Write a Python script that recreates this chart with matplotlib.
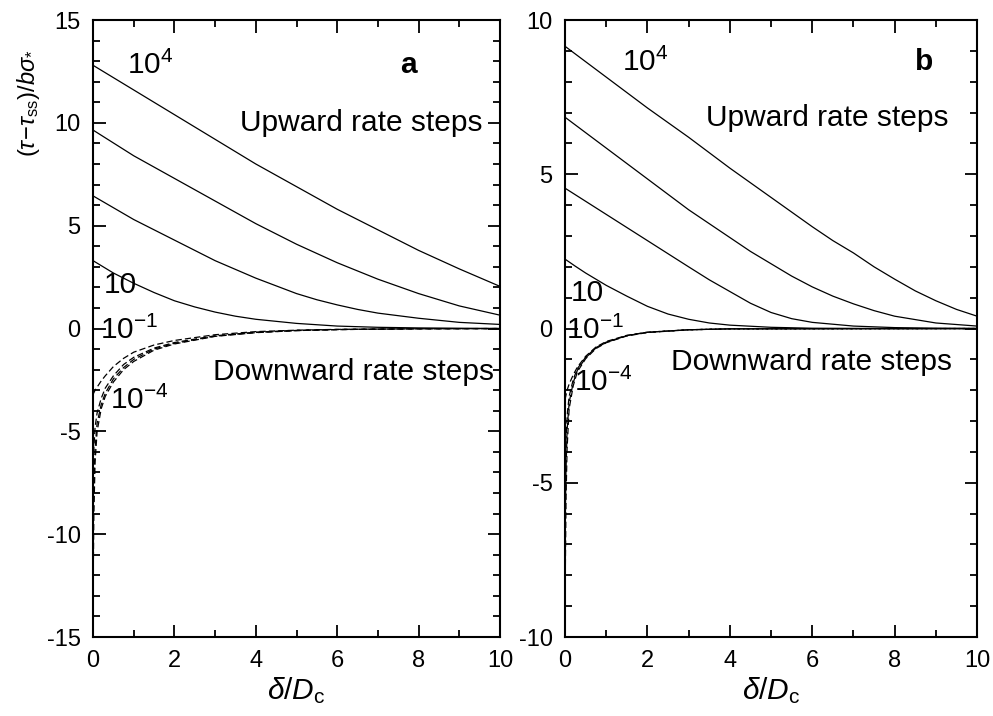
import matplotlib
matplotlib.use("Agg")
import matplotlib.pyplot as plt
from matplotlib.ticker import MultipleLocator

plt.rcParams["font.family"] = ["Liberation Sans", "DejaVu Sans"]
plt.rcParams["mathtext.fontset"] = "custom"
plt.rcParams["mathtext.rm"] = "Liberation Sans"
plt.rcParams["mathtext.it"] = "Liberation Sans:italic"
plt.rcParams["mathtext.bf"] = "Liberation Sans:bold"
plt.rcParams["axes.unicode_minus"] = False

# ==========================================
# DATA
# ==========================================
# panel a - upward rate steps (solid)
xa_up = [0, 1, 2, 3, 4, 5, 6, 7, 8, 9, 10]
a_up_1e4 = [12.8, 11.6, 10.4, 9.2, 8.0, 6.9, 5.8, 4.8, 3.8, 2.9, 2.05]
a_up_1e3 = [9.65, 8.4, 7.3, 6.2, 5.1, 4.1, 3.2, 2.4, 1.7, 1.1, 0.65]
xa_up2 = [0, 1, 2, 3, 4, 5, 5.5, 6, 6.5, 7, 8, 9, 10]
a_up_1e2 = [6.45, 5.3, 4.3, 3.3, 2.45, 1.7, 1.4, 1.15, 0.93, 0.75, 0.5, 0.3, 0.2]
xa_up10 = [0, 0.5, 1, 1.5, 2, 2.5, 3, 3.5, 4, 5, 6, 7, 8, 10]
a_up_1e1 = [3.3, 2.7, 2.2, 1.75, 1.35, 1.05, 0.8, 0.6, 0.45, 0.25, 0.12, 0.06, 0.03, 0.0]

# panel a - downward rate steps (dashed)
xa_dn1 = [0, 0.05, 0.1, 0.2, 0.3, 0.5, 0.75, 1, 1.5, 2, 3, 4, 5, 6, 8, 10]
a_dn_1e1 = [-3.2, -3.0, -2.85, -2.55, -2.3, -1.85, -1.45, -1.15, -0.8, -0.58,
            -0.3, -0.15, -0.08, -0.04, -0.01, 0.0]
a_dn_1e2 = [-6.5, -4.8, -4.1, -3.4, -2.9, -2.3, -1.75, -1.4, -0.95, -0.68,
            -0.35, -0.18, -0.09, -0.05, -0.01, 0.0]
xa_dn3 = [0, 0.03, 0.05, 0.1, 0.2, 0.3, 0.5, 0.75, 1, 1.5, 2, 3, 4, 5, 6, 8, 10]
a_dn_1e3 = [-9.8, -7.0, -5.8, -4.6, -3.7, -3.15, -2.45, -1.9, -1.5, -1.0,
            -0.72, -0.37, -0.19, -0.1, -0.05, -0.01, 0.0]
xa_dn4 = [0, 0.02, 0.05, 0.1, 0.2, 0.3, 0.5, 0.75, 1, 1.5, 2, 3, 4, 5, 6, 8, 10]
a_dn_1e4 = [-13.0, -9.0, -6.5, -5.0, -3.9, -3.3, -2.6, -2.0, -1.6, -1.05,
            -0.75, -0.38, -0.2, -0.1, -0.05, -0.01, 0.0]

# panel b - upward rate steps (solid)
xb_up4 = [0, 1, 2, 3, 4, 5, 6, 6.5, 7, 7.5, 8, 8.5, 9, 9.5, 10]
b_up_1e4 = [9.15, 8.15, 7.15, 6.2, 5.2, 4.25, 3.3, 2.85, 2.45, 2.0, 1.6, 1.22,
            0.9, 0.62, 0.4]
xb_up3 = [0, 1, 2, 3, 4, 4.5, 5, 5.5, 6, 6.5, 7, 7.5, 8, 9, 10]
b_up_1e3 = [6.85, 5.85, 4.85, 3.85, 2.95, 2.5, 2.1, 1.7, 1.35, 1.05, 0.8, 0.58,
            0.4, 0.18, 0.08]
xb_up2 = [0, 1, 2, 3, 3.5, 4, 4.5, 5, 5.5, 6, 7, 8, 9, 10]
b_up_1e2 = [4.55, 3.7, 2.85, 2.0, 1.58, 1.2, 0.82, 0.52, 0.32, 0.2, 0.08, 0.03,
            0.01, 0.0]
xb_up10 = [0, 0.25, 0.5, 0.75, 1, 1.5, 2, 2.5, 3, 3.5, 4, 5, 6, 8, 10]
b_up_1e1 = [2.25, 2.02, 1.8, 1.6, 1.4, 1.05, 0.72, 0.47, 0.3, 0.18, 0.11, 0.04,
            0.01, 0.0, 0.0]

# panel b - downward rate steps (dashed)
xb_dn1 = [0, 0.05, 0.1, 0.2, 0.3, 0.5, 0.75, 1, 1.5, 2, 3, 4, 10]
b_dn_1e1 = [-2.3, -2.0, -1.8, -1.5, -1.25, -0.9, -0.6, -0.42, -0.22, -0.12,
            -0.04, -0.01, 0.0]
xb_dn2 = [0, 0.03, 0.06, 0.1, 0.2, 0.3, 0.5, 0.75, 1, 1.5, 2, 3, 4, 10]
b_dn_1e2 = [-4.6, -3.4, -2.7, -2.2, -1.65, -1.3, -0.93, -0.62, -0.44, -0.23,
            -0.12, -0.04, -0.01, 0.0]
xb_dn3 = [0, 0.02, 0.05, 0.1, 0.2, 0.3, 0.5, 0.75, 1, 1.5, 2, 3, 4, 10]
b_dn_1e3 = [-6.9, -4.8, -3.3, -2.4, -1.75, -1.35, -0.95, -0.63, -0.45, -0.23,
            -0.12, -0.04, -0.01, 0.0]
xb_dn4 = [0, 0.01, 0.025, 0.05, 0.1, 0.2, 0.3, 0.5, 0.75, 1, 1.5, 2, 3, 4, 10]
b_dn_1e4 = [-9.2, -7.5, -5.5, -3.9, -2.6, -1.85, -1.4, -0.98, -0.65, -0.46,
            -0.24, -0.13, -0.04, -0.01, 0.0]

# ==========================================
# FIGURE
# ==========================================
fig = plt.figure(figsize=(9.93, 7.16), dpi=100)
ax_a = fig.add_axes([0.0937, 0.1103, 0.4098, 0.8617])
ax_b = fig.add_axes([0.569, 0.1103, 0.415, 0.8617])

LW = 0.9
DASH = (0, (5, 2.5))
TICK_FS = 17
TEXT_FS = 21.5

ax_a.plot(xa_up, a_up_1e4, color="black", lw=LW)
ax_a.plot(xa_up, a_up_1e3, color="black", lw=LW)
ax_a.plot(xa_up2, a_up_1e2, color="black", lw=LW)
ax_a.plot(xa_up10, a_up_1e1, color="black", lw=LW)
ax_a.plot(xa_dn1, a_dn_1e1, color="black", lw=LW, linestyle=DASH)
ax_a.plot(xa_dn1, a_dn_1e2, color="black", lw=LW, linestyle=DASH)
ax_a.plot(xa_dn3, a_dn_1e3, color="black", lw=LW, linestyle=DASH)
ax_a.plot(xa_dn4, a_dn_1e4, color="black", lw=LW, linestyle=DASH)

ax_b.plot(xb_up4, b_up_1e4, color="black", lw=LW)
ax_b.plot(xb_up3, b_up_1e3, color="black", lw=LW)
ax_b.plot(xb_up2, b_up_1e2, color="black", lw=LW)
ax_b.plot(xb_up10, b_up_1e1, color="black", lw=LW)
ax_b.plot(xb_dn1, b_dn_1e1, color="black", lw=LW, linestyle=DASH)
ax_b.plot(xb_dn2, b_dn_1e2, color="black", lw=LW, linestyle=DASH)
ax_b.plot(xb_dn3, b_dn_1e3, color="black", lw=LW, linestyle=DASH)
ax_b.plot(xb_dn4, b_dn_1e4, color="black", lw=LW, linestyle=DASH)

# ==========================================
# AXES STYLE
# ==========================================
ax_a.set_ylim(-15, 15)
ax_b.set_ylim(-10, 10)
for ax in (ax_a, ax_b):
    ax.set_xlim(0, 10)
    ax.xaxis.set_major_locator(MultipleLocator(2))
    ax.xaxis.set_minor_locator(MultipleLocator(1))
    ax.yaxis.set_major_locator(MultipleLocator(5))
    ax.yaxis.set_minor_locator(MultipleLocator(1))
    ax.tick_params(which="both", direction="in", top=True, right=True,
                   width=1.3, labelsize=TICK_FS, pad=9)
    ax.tick_params(which="major", length=9)
    ax.tick_params(which="minor", length=5)
    for sp in ax.spines.values():
        sp.set_linewidth(1.5)
    ax.set_xlabel(r"$\delta/D_{\mathrm{c}}$", fontsize=TEXT_FS)
    ax.xaxis.set_label_coords(0.5, -0.062)

ax_a.set_ylabel(r"$(\tau\!-\!\tau_{\mathrm{ss}})/b\sigma_{*}$", fontsize=17)
ax_a.yaxis.set_label_coords(-0.125, 0.865)

# ==========================================
# ANNOTATIONS
# ==========================================
ax_a.text(1.4, 12.8, r"$\mathregular{10^{4}}$", fontsize=TEXT_FS, ha="center", va="center")
ax_a.text(7.74, 12.8, "a", fontsize=TEXT_FS, fontweight="bold", ha="center", va="center")
ax_a.text(6.6, 9.97, "Upward rate steps", fontsize=TEXT_FS, ha="center", va="center")
ax_a.text(0.66, 2.1, "10", fontsize=TEXT_FS, ha="center", va="center")
ax_a.text(0.9, -0.1, r"$\mathregular{10^{-1}}$", fontsize=TEXT_FS, ha="center", va="center")
ax_a.text(6.4, -2.1, "Downward rate steps", fontsize=TEXT_FS, ha="center", va="center")
ax_a.text(1.15, -3.5, r"$\mathregular{10^{-4}}$", fontsize=TEXT_FS, ha="center", va="center")

ax_b.text(1.94, 8.63, r"$\mathregular{10^{4}}$", fontsize=TEXT_FS, ha="center", va="center")
ax_b.text(8.71, 8.63, "b", fontsize=TEXT_FS, fontweight="bold", ha="center", va="center")
ax_b.text(6.36, 6.82, "Upward rate steps", fontsize=TEXT_FS, ha="center", va="center")
ax_b.text(0.53, 1.15, "10", fontsize=TEXT_FS, ha="center", va="center")
ax_b.text(0.73, -0.05, r"$\mathregular{10^{-1}}$", fontsize=TEXT_FS, ha="center", va="center")
ax_b.text(5.97, -1.09, "Downward rate steps", fontsize=TEXT_FS, ha="center", va="center")
ax_b.text(0.92, -1.74, r"$\mathregular{10^{-4}}$", fontsize=TEXT_FS, ha="center", va="center")

fig.savefig("out.png", dpi=100)
